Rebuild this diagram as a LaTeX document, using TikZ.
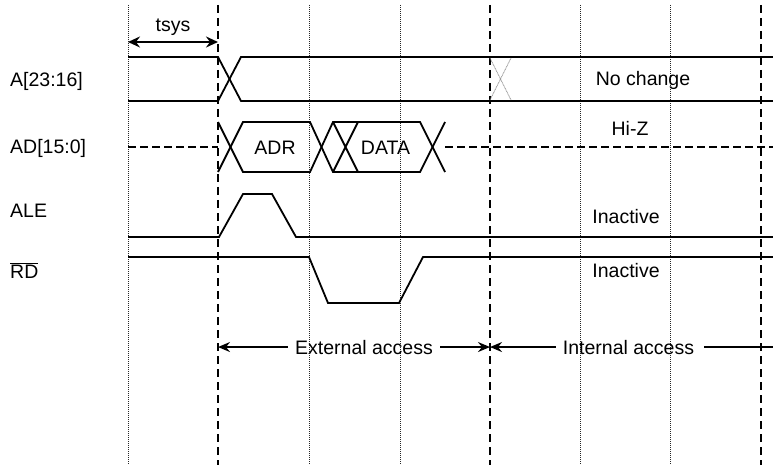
\documentclass[tikz,border=0pt]{standalone}
\usepackage{fontspec}
\setmainfont{Liberation Sans}
\usetikzlibrary{arrows.meta}
\begin{document}
\begin{tikzpicture}[x=1pt,y=-1pt,
  sig/.style={line width=1.8pt, line join=miter},
  hiz/.style={line width=1.8pt, dash pattern=on 8pt off 4pt},
  griddot/.style={line width=0.8pt, dash pattern=on 1pt off 1pt, black!85},
  griddash/.style={line width=1.7pt, dash pattern=on 8pt off 5pt},
  faintx/.style={line width=0.8pt, dash pattern=on 1pt off 0.6pt, gray!80},
  lbl/.style={font=\fontsize{19.5}{22}\selectfont, inner sep=0pt, anchor=base},
  lbll/.style={lbl, anchor=base west},
  dimarrow/.style={line width=1.7pt, {Stealth[length=12pt, width=11pt, inset=4pt]}-{Stealth[length=12pt, width=11pt, inset=4pt]}},
  accarrow/.style={line width=1.6pt, -{Stealth[length=12pt, width=10pt, inset=4pt]}},
  accline/.style={line width=1.6pt}
]
\useasboundingbox (0,0) rectangle (773,465);

% vertical grid lines
\foreach \x/\n in {128/g0, 309/g2, 400/g3, 580/g5, 670/g6}{
  \coordinate (\n t) at (\x,5); \coordinate (\n b) at (\x,465);
  \draw[griddot] (\n t) -- (\n b);
}
\foreach \x/\n in {218/g1, 490/g4, 761/g7}{
  \coordinate (\n t) at (\x,5); \coordinate (\n b) at (\x,465);
  \draw[griddash] (\n t) -- (\n b);
}

% signal labels
\node[lbll] (lA) at (10,87) {A[23:16]};
\node[lbll] (lAD) at (10,154) {AD[15:0]};
\node[lbll] (lALE) at (10,217) {ALE};
\node[lbll] (lRD) at (10,278) {$\overline{\mbox{RD}}$};

% tsys
\coordinate (ta) at (128,42);
\coordinate (tb) at (218,42);
\draw[dimarrow] (ta) -- (tb);
\node[lbl] (tsys) at (173,32) {tsys};

% A[23:16]
\draw[sig] (128,57) -- (218,57) -- (241,101) -- (773,101);
\draw[sig] (128,101) -- (218,101) -- (241,57) -- (773,57);
\draw[faintx] (490,58) -- (511,100) (490,100) -- (511,58);
\node[lbl] (nochange) at (643,86) {No change};

% AD[15:0]
\draw[hiz] (128,147) -- (218,147);
\draw[sig] (218,122) -- (243,172) -- (310,172) -- (333,122) -- (420,122) -- (445,172);
\draw[sig] (218,172) -- (243,122) -- (310,122) -- (333,172) -- (420,172) -- (445,122);
\draw[sig] (333,122) -- (358,172) (333,172) -- (358,122);
\draw[hiz] (445,147) -- (773,147);
\node[lbl] (adr) at (275,155) {ADR};
\node[lbl] (data) at (385.5,155) {DATA};
\node[lbl] (hiz) at (630,136) {Hi-Z};

% ALE
\draw[sig] (128,237) -- (219,237) -- (243,194) -- (272,194) -- (296,237) -- (773,237);
\node[lbl] (inact1) at (626,223) {Inactive};

% RD
\draw[sig] (128,257) -- (309,257) -- (328,303) -- (399,303) -- (423,257) -- (773,257);
\node[lbl] (inact2) at (626,277) {Inactive};

% access arrows
\node[lbl] (ext) at (364,354) {External access};
\node[lbl] (int) at (628.5,354) {Internal access};
\coordinate (redge) at (773,348);
\draw[accarrow] ([xshift=-7pt]ext.west) -- (g1t |- ext.west);
\draw[accarrow] ([xshift=7pt]ext.east) -- (g4t |- ext.west);
\draw[accarrow] ([xshift=-7pt]int.west) -- (g4t |- int.west);
\draw[accline] ([xshift=10pt]int.east) -- (redge |- int.east);
\end{tikzpicture}
\end{document}
